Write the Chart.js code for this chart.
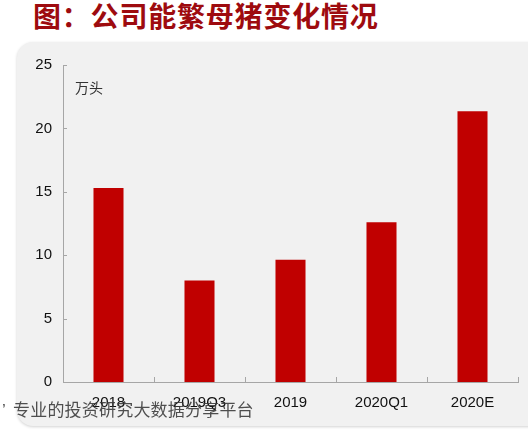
<!DOCTYPE html>
<html>
<head>
<meta charset="utf-8">
<script src="https://cdn.jsdelivr.net/npm/chart.js@4/dist/chart.umd.min.js"></script>
<style>
  html, body { margin: 0; padding: 0; background: #fff; }
  #wrap { position: relative; width: 528px; height: 431px; overflow: hidden; }
  #title {
    position: absolute; left: 33px; top: -1px;
    font: 700 28px "Noto Sans CJK SC", sans-serif; letter-spacing: 0.8px;
    color: #9e0b0f; line-height: 32px; white-space: nowrap;
  }
  #panel {
    position: absolute; left: 17px; top: 42px; width: 540px; height: 384px;
    background: #f1f1f1; border-radius: 16px;
    box-shadow: 0 1px 3px rgba(0,0,0,0.18);
  }
  #chart { position: absolute; left: 0; top: 0; }
  #mark {
    position: absolute; left: 2px; top: 397px;
    font: 17px "Noto Sans CJK SC", sans-serif; line-height: 24px; letter-spacing: 0.2px;
    color: rgba(55,55,55,0.88); white-space: nowrap;
  }
  #mark span { font-family: "Liberation Sans", sans-serif; margin-right: 7px; }
</style>
</head>
<body>
<div id="wrap">
  <div id="title">图：公司能繁母猪变化情况</div>
  <div id="panel"></div>
  <canvas id="chart" width="528" height="431"></canvas>
  <div id="mark"><span>’</span>专业的投资研究大数据分享平台</div>
</div>
<script>
// 能繁母猪存栏（万头）
var categories = ['2018', '2019Q3', '2019', '2020Q1', '2020E'];
var sows = [15.3, 8.0, 9.65, 12.6, 21.35];
var unitLabel = '万头';
var yMin = 0, yMax = 25, yStep = 5;

var axisGray = '#a6a6a6';
var labelFont = { family: '"Liberation Sans", Arial, sans-serif', size: 15 };

// inward tick marks plus the unit text in the plot corner
var innerTicks = {
  id: 'innerTicks',
  afterDraw: function (chart) {
    var ctx = chart.ctx, x = chart.scales.x, y = chart.scales.y;
    var area = chart.chartArea;
    ctx.save();
    ctx.strokeStyle = axisGray;
    ctx.lineWidth = 1;
    ctx.beginPath();
    y.ticks.forEach(function (t) {
      var py = Math.round(y.getPixelForValue(t.value)) + 0.5;
      ctx.moveTo(area.left, py);
      ctx.lineTo(area.left + 4, py);
    });
    var n = categories.length;
    for (var i = 1; i <= n; i++) {
      var px = Math.round(x.left + i * (x.width / n)) + 0.5;
      ctx.moveTo(px, area.bottom);
      ctx.lineTo(px, area.bottom - 5);
    }
    ctx.stroke();
    ctx.fillStyle = '#333';
    ctx.font = '14px "Noto Sans CJK SC", sans-serif';
    ctx.textBaseline = 'middle';
    ctx.fillText(unitLabel, area.left + 12, area.top + 23);
    ctx.restore();
  }
};

new Chart(document.getElementById('chart').getContext('2d'), {
  type: 'bar',
  data: {
    labels: categories,
    datasets: [{
      data: sows,
      backgroundColor: '#c00000',
      borderWidth: 0,
      barPercentage: 1,
      categoryPercentage: 0.33
    }]
  },
  options: {
    responsive: false,
    animation: false,
    events: [],
    layout: { padding: { left: 0, top: 65, right: 10, bottom: 0 } },
    plugins: { legend: { display: false }, tooltip: { enabled: false } },
    scales: {
      x: {
        grid: { display: false, drawTicks: false },
        border: { display: true, color: axisGray, width: 1 },
        ticks: { color: '#111', font: labelFont, padding: 12, maxRotation: 0, autoSkip: false },
        afterFit: function (s) { s.height = 49; }
      },
      y: {
        min: yMin,
        max: yMax,
        grid: { display: false, drawTicks: false },
        border: { display: true, color: axisGray, width: 1 },
        ticks: { stepSize: yStep, color: '#111', font: labelFont, padding: 11 },
        afterFit: function (s) { s.width = 63; }
      }
    }
  },
  plugins: [innerTicks]
});
</script>
</body>
</html>
